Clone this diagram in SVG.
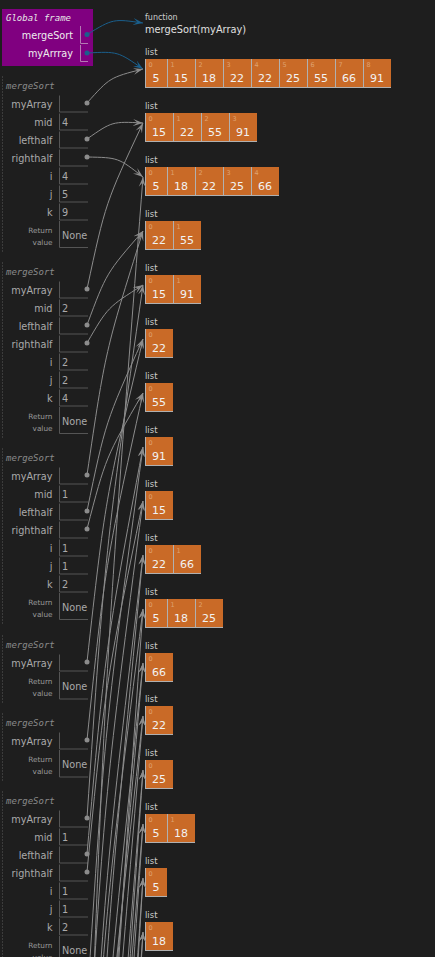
<svg xmlns="http://www.w3.org/2000/svg" width="435" height="957" viewBox="0 0 435 957">
<style>
.lbl{font-family:"DejaVu Sans",sans-serif;font-size:9.7px;fill:#aaaaaa;text-anchor:end}
.val{font-family:"DejaVu Sans",sans-serif;font-size:9.7px;fill:#aaaaaa}
.rv{font-family:"DejaVu Sans",sans-serif;font-size:7.3px;fill:#999999;text-anchor:end}
.hdr{font-family:"DejaVu Sans Mono",monospace;font-style:italic;font-size:9px;fill:#8a8a8a}
.cell{stroke:#555555;fill:none;stroke-width:1}
.brd{stroke:#5a5a5a;stroke-width:1;stroke-dasharray:1 2}
.dot{fill:#8c8c8c}
.gdot{fill:#1a5f8c}
.conn{stroke:#8c8c8c;fill:none;stroke-width:1;marker-end:url(#ag)}
.gconn{stroke:#1a5f8c;fill:none;stroke-width:1;marker-end:url(#ab)}
.lt{font-family:"DejaVu Sans",sans-serif;font-size:8.5px;fill:#cccccc}
.box{fill:#c96a27}
.sep{stroke:#b0b0b0;stroke-width:1}
.idx{font-family:"DejaVu Sans",sans-serif;font-size:6.5px;fill:#dfa271}
.num{font-family:"DejaVu Sans",sans-serif;font-size:11px;fill:#f2f2f2;text-anchor:middle}
.gl{font-family:"DejaVu Sans",sans-serif;font-size:9.7px;fill:#eeeeee;text-anchor:end}
</style>
<defs>
<marker id="ag" viewBox="-10 -4 10 8" refX="0" refY="0" markerWidth="10" markerHeight="8" markerUnits="userSpaceOnUse" orient="auto"><path d="M0,0 L-10,3.5 L-5.5,0 L-10,-3.5 Z" fill="#8c8c8c"/></marker>
<marker id="ab" viewBox="-10 -4 10 8" refX="0" refY="0" markerWidth="10" markerHeight="8" markerUnits="userSpaceOnUse" orient="auto"><path d="M0,0 L-10,3.5 L-5.5,0 L-10,-3.5 Z" fill="#1a5f8c"/></marker>
</defs>
<rect x="0" y="0" width="435" height="957" fill="#1e1e1e"/>

<g id="globalFrame">
<rect x="2" y="9" width="91" height="57" fill="#800080"/>
<text x="6" y="21" class="hdr" style="fill:#e6e6e6">Global frame</text>
<text x="73" y="38.5" class="gl">mergeSort</text>
<text x="73" y="57" class="gl">myArrray</text>
<path d="M80.5,26 V43.5 H88 M80.5,45 V61.5 H88" stroke="#b37ab3" fill="none"/>
<circle cx="87" cy="34.5" r="2.5" class="gdot"/>
<circle cx="87" cy="53" r="2.5" class="gdot"/>
</g>

<g id="frame1" transform="translate(0,103.5)">
<line x1="2.5" y1="-27" x2="2.5" y2="149" class="brd"/>
<text x="6" y="-14.5" class="hdr">mergeSort</text>
<text x="52.5" y="4" class="lbl">myArray</text>
<text x="52.5" y="22" class="lbl">mid</text>
<text x="52.5" y="40" class="lbl">lefthalf</text>
<text x="52.5" y="58" class="lbl">righthalf</text>
<text x="52.5" y="76" class="lbl">i</text>
<text x="52.5" y="94" class="lbl">j</text>
<text x="52.5" y="112" class="lbl">k</text>
<text x="52.5" y="129" class="rv">Return</text>
<text x="52.5" y="141" class="rv">value</text>
<path class="cell" d="M59.5,-8 V8.5 H88 M59.5,10 V26.5 H88 M59.5,28 V44.5 H88 M59.5,46 V62.5 H88 M59.5,64 V80.5 H88 M59.5,82 V98.5 H88 M59.5,100 V116.5 H88 M59.5,117.5 V144 H88"/>
<text x="62" y="22" class="val">4</text>
<text x="62" y="76" class="val">4</text>
<text x="62" y="94" class="val">5</text>
<text x="62" y="112" class="val">9</text>
<text x="62" y="135" class="val">None</text>
<circle cx="87" cy="-0.5" r="2.5" class="dot"/>
<circle cx="87" cy="35.5" r="2.5" class="dot"/>
<circle cx="87" cy="53.5" r="2.5" class="dot"/>
</g>

<g id="frame2" transform="translate(0,289.5)">
<line x1="2.5" y1="-27" x2="2.5" y2="149" class="brd"/>
<text x="6" y="-14.5" class="hdr">mergeSort</text>
<text x="52.5" y="4" class="lbl">myArray</text>
<text x="52.5" y="22" class="lbl">mid</text>
<text x="52.5" y="40" class="lbl">lefthalf</text>
<text x="52.5" y="58" class="lbl">righthalf</text>
<text x="52.5" y="76" class="lbl">i</text>
<text x="52.5" y="94" class="lbl">j</text>
<text x="52.5" y="112" class="lbl">k</text>
<text x="52.5" y="129" class="rv">Return</text>
<text x="52.5" y="141" class="rv">value</text>
<path class="cell" d="M59.5,-8 V8.5 H88 M59.5,10 V26.5 H88 M59.5,28 V44.5 H88 M59.5,46 V62.5 H88 M59.5,64 V80.5 H88 M59.5,82 V98.5 H88 M59.5,100 V116.5 H88 M59.5,117.5 V144 H88"/>
<text x="62" y="22" class="val">2</text>
<text x="62" y="76" class="val">2</text>
<text x="62" y="94" class="val">2</text>
<text x="62" y="112" class="val">4</text>
<text x="62" y="135" class="val">None</text>
<circle cx="87" cy="-0.5" r="2.5" class="dot"/>
<circle cx="87" cy="35.5" r="2.5" class="dot"/>
<circle cx="87" cy="53.5" r="2.5" class="dot"/>
</g>

<g id="frame3" transform="translate(0,475.5)">
<line x1="2.5" y1="-27" x2="2.5" y2="149" class="brd"/>
<text x="6" y="-14.5" class="hdr">mergeSort</text>
<text x="52.5" y="4" class="lbl">myArray</text>
<text x="52.5" y="22" class="lbl">mid</text>
<text x="52.5" y="40" class="lbl">lefthalf</text>
<text x="52.5" y="58" class="lbl">righthalf</text>
<text x="52.5" y="76" class="lbl">i</text>
<text x="52.5" y="94" class="lbl">j</text>
<text x="52.5" y="112" class="lbl">k</text>
<text x="52.5" y="129" class="rv">Return</text>
<text x="52.5" y="141" class="rv">value</text>
<path class="cell" d="M59.5,-8 V8.5 H88 M59.5,10 V26.5 H88 M59.5,28 V44.5 H88 M59.5,46 V62.5 H88 M59.5,64 V80.5 H88 M59.5,82 V98.5 H88 M59.5,100 V116.5 H88 M59.5,117.5 V144 H88"/>
<text x="62" y="22" class="val">1</text>
<text x="62" y="76" class="val">1</text>
<text x="62" y="94" class="val">1</text>
<text x="62" y="112" class="val">2</text>
<text x="62" y="135" class="val">None</text>
<circle cx="87" cy="-0.5" r="2.5" class="dot"/>
<circle cx="87" cy="35.5" r="2.5" class="dot"/>
<circle cx="87" cy="53.5" r="2.5" class="dot"/>
</g>

<g id="frame4" transform="translate(0,662.5)">
<line x1="2.5" y1="-27" x2="2.5" y2="41" class="brd"/>
<text x="6" y="-14.5" class="hdr">mergeSort</text>
<text x="52.5" y="4" class="lbl">myArray</text>
<text x="52.5" y="21.5" class="rv">Return</text>
<text x="52.5" y="33.5" class="rv">value</text>
<path class="cell" d="M59.5,-8 V8.5 H88 M59.5,9.5 V36.5 H88"/>
<text x="62" y="27.5" class="val">None</text>
<circle cx="87" cy="-0.5" r="2.5" class="dot"/>
</g>

<g id="frame5" transform="translate(0,740.5)">
<line x1="2.5" y1="-27" x2="2.5" y2="41" class="brd"/>
<text x="6" y="-14.5" class="hdr">mergeSort</text>
<text x="52.5" y="4" class="lbl">myArray</text>
<text x="52.5" y="21.5" class="rv">Return</text>
<text x="52.5" y="33.5" class="rv">value</text>
<path class="cell" d="M59.5,-8 V8.5 H88 M59.5,9.5 V36.5 H88"/>
<text x="62" y="27.5" class="val">None</text>
<circle cx="87" cy="-0.5" r="2.5" class="dot"/>
</g>

<g id="frame6" transform="translate(0,818.5)">
<line x1="2.5" y1="-27" x2="2.5" y2="149" class="brd"/>
<text x="6" y="-14.5" class="hdr">mergeSort</text>
<text x="52.5" y="4" class="lbl">myArray</text>
<text x="52.5" y="22" class="lbl">mid</text>
<text x="52.5" y="40" class="lbl">lefthalf</text>
<text x="52.5" y="58" class="lbl">righthalf</text>
<text x="52.5" y="76" class="lbl">i</text>
<text x="52.5" y="94" class="lbl">j</text>
<text x="52.5" y="112" class="lbl">k</text>
<text x="52.5" y="129" class="rv">Return</text>
<text x="52.5" y="141" class="rv">value</text>
<path class="cell" d="M59.5,-8 V8.5 H88 M59.5,10 V26.5 H88 M59.5,28 V44.5 H88 M59.5,46 V62.5 H88 M59.5,64 V80.5 H88 M59.5,82 V98.5 H88 M59.5,100 V116.5 H88 M59.5,117.5 V144 H88"/>
<text x="62" y="22" class="val">1</text>
<text x="62" y="76" class="val">1</text>
<text x="62" y="94" class="val">1</text>
<text x="62" y="112" class="val">2</text>
<text x="62" y="135" class="val">None</text>
<circle cx="87" cy="-0.5" r="2.5" class="dot"/>
<circle cx="87" cy="35.5" r="2.5" class="dot"/>
<circle cx="87" cy="53.5" r="2.5" class="dot"/>
</g>

<g id="func">
<text x="145" y="20" style="font-family:'DejaVu Sans',sans-serif;font-size:8px;fill:#cccccc">function</text>
<text x="145" y="33" style="font-family:'DejaVu Sans',sans-serif;font-size:9.8px;fill:#e0e0e0">mergeSort(myArray)</text>
</g>

<g id="list1" transform="translate(145,59)">
<text class="lt" x="0" y="-4">list</text>
<rect class="box" x="0" y="0" width="246" height="28"/>
<path class="sep" d="M0.5,0 V28 M22.5,0 V28 M50.5,0 V28 M78.5,0 V28 M106.5,0 V28 M134.5,0 V28 M162.5,0 V28 M190.5,0 V28 M218.5,0 V28 M0,28.5 H246"/>
<text class="idx" x="3.5" y="7.5">0</text><text class="idx" x="25.5" y="7.5">1</text><text class="idx" x="53.5" y="7.5">2</text><text class="idx" x="81.5" y="7.5">3</text><text class="idx" x="109.5" y="7.5">4</text><text class="idx" x="137.5" y="7.5">5</text><text class="idx" x="165.5" y="7.5">6</text><text class="idx" x="193.5" y="7.5">7</text><text class="idx" x="221.5" y="7.5">8</text>
<text class="num" x="11" y="22.5">5</text><text class="num" x="36" y="22.5">15</text><text class="num" x="64" y="22.5">18</text><text class="num" x="92" y="22.5">22</text><text class="num" x="120" y="22.5">22</text><text class="num" x="148" y="22.5">25</text><text class="num" x="176" y="22.5">55</text><text class="num" x="204" y="22.5">66</text><text class="num" x="232" y="22.5">91</text>
</g>

<g id="list2" transform="translate(145,113)">
<text class="lt" x="0" y="-4">list</text>
<rect class="box" x="0" y="0" width="112" height="28"/>
<path class="sep" d="M0.5,0 V28 M28.5,0 V28 M56.5,0 V28 M84.5,0 V28 M0,28.5 H112"/>
<text class="idx" x="3.5" y="7.5">0</text><text class="idx" x="31.5" y="7.5">1</text><text class="idx" x="59.5" y="7.5">2</text><text class="idx" x="87.5" y="7.5">3</text>
<text class="num" x="14" y="22.5">15</text><text class="num" x="42" y="22.5">22</text><text class="num" x="70" y="22.5">55</text><text class="num" x="98" y="22.5">91</text>
</g>

<g id="list3" transform="translate(145,167)">
<text class="lt" x="0" y="-4">list</text>
<rect class="box" x="0" y="0" width="134" height="28"/>
<path class="sep" d="M0.5,0 V28 M22.5,0 V28 M50.5,0 V28 M78.5,0 V28 M106.5,0 V28 M0,28.5 H134"/>
<text class="idx" x="3.5" y="7.5">0</text><text class="idx" x="25.5" y="7.5">1</text><text class="idx" x="53.5" y="7.5">2</text><text class="idx" x="81.5" y="7.5">3</text><text class="idx" x="109.5" y="7.5">4</text>
<text class="num" x="11" y="22.5">5</text><text class="num" x="36" y="22.5">18</text><text class="num" x="64" y="22.5">22</text><text class="num" x="92" y="22.5">25</text><text class="num" x="120" y="22.5">66</text>
</g>

<g id="list4" transform="translate(145,221)">
<text class="lt" x="0" y="-4">list</text>
<rect class="box" x="0" y="0" width="56" height="28"/>
<path class="sep" d="M0.5,0 V28 M28.5,0 V28 M0,28.5 H56"/>
<text class="idx" x="3.5" y="7.5">0</text><text class="idx" x="31.5" y="7.5">1</text>
<text class="num" x="14" y="22.5">22</text><text class="num" x="42" y="22.5">55</text>
</g>

<g id="list5" transform="translate(145,275)">
<text class="lt" x="0" y="-4">list</text>
<rect class="box" x="0" y="0" width="56" height="28"/>
<path class="sep" d="M0.5,0 V28 M28.5,0 V28 M0,28.5 H56"/>
<text class="idx" x="3.5" y="7.5">0</text><text class="idx" x="31.5" y="7.5">1</text>
<text class="num" x="14" y="22.5">15</text><text class="num" x="42" y="22.5">91</text>
</g>

<g id="list6" transform="translate(145,329)">
<text class="lt" x="0" y="-4">list</text>
<rect class="box" x="0" y="0" width="28" height="28"/>
<path class="sep" d="M0.5,0 V28 M0,28.5 H28"/>
<text class="idx" x="3.5" y="7.5">0</text><text class="num" x="14" y="22.5">22</text>
</g>

<g id="list7" transform="translate(145,383)">
<text class="lt" x="0" y="-4">list</text>
<rect class="box" x="0" y="0" width="28" height="28"/>
<path class="sep" d="M0.5,0 V28 M0,28.5 H28"/>
<text class="idx" x="3.5" y="7.5">0</text><text class="num" x="14" y="22.5">55</text>
</g>

<g id="list8" transform="translate(145,437)">
<text class="lt" x="0" y="-4">list</text>
<rect class="box" x="0" y="0" width="28" height="28"/>
<path class="sep" d="M0.5,0 V28 M0,28.5 H28"/>
<text class="idx" x="3.5" y="7.5">0</text><text class="num" x="14" y="22.5">91</text>
</g>

<g id="list9" transform="translate(145,491)">
<text class="lt" x="0" y="-4">list</text>
<rect class="box" x="0" y="0" width="28" height="28"/>
<path class="sep" d="M0.5,0 V28 M0,28.5 H28"/>
<text class="idx" x="3.5" y="7.5">0</text><text class="num" x="14" y="22.5">15</text>
</g>

<g id="list10" transform="translate(145,545)">
<text class="lt" x="0" y="-4">list</text>
<rect class="box" x="0" y="0" width="56" height="28"/>
<path class="sep" d="M0.5,0 V28 M28.5,0 V28 M0,28.5 H56"/>
<text class="idx" x="3.5" y="7.5">0</text><text class="idx" x="31.5" y="7.5">1</text>
<text class="num" x="14" y="22.5">22</text><text class="num" x="42" y="22.5">66</text>
</g>

<g id="list11" transform="translate(145,599)">
<text class="lt" x="0" y="-4">list</text>
<rect class="box" x="0" y="0" width="78" height="28"/>
<path class="sep" d="M0.5,0 V28 M22.5,0 V28 M50.5,0 V28 M0,28.5 H78"/>
<text class="idx" x="3.5" y="7.5">0</text><text class="idx" x="25.5" y="7.5">1</text><text class="idx" x="53.5" y="7.5">2</text>
<text class="num" x="11" y="22.5">5</text><text class="num" x="36" y="22.5">18</text><text class="num" x="64" y="22.5">25</text>
</g>

<g id="list12" transform="translate(145,653)">
<text class="lt" x="0" y="-4">list</text>
<rect class="box" x="0" y="0" width="28" height="28"/>
<path class="sep" d="M0.5,0 V28 M0,28.5 H28"/>
<text class="idx" x="3.5" y="7.5">0</text><text class="num" x="14" y="22.5">66</text>
</g>

<g id="list13" transform="translate(145,706)">
<text class="lt" x="0" y="-4">list</text>
<rect class="box" x="0" y="0" width="28" height="28"/>
<path class="sep" d="M0.5,0 V28 M0,28.5 H28"/>
<text class="idx" x="3.5" y="7.5">0</text><text class="num" x="14" y="22.5">22</text>
</g>

<g id="list14" transform="translate(145,760)">
<text class="lt" x="0" y="-4">list</text>
<rect class="box" x="0" y="0" width="28" height="28"/>
<path class="sep" d="M0.5,0 V28 M0,28.5 H28"/>
<text class="idx" x="3.5" y="7.5">0</text><text class="num" x="14" y="22.5">25</text>
</g>

<g id="list15" transform="translate(145,814)">
<text class="lt" x="0" y="-4">list</text>
<rect class="box" x="0" y="0" width="50" height="28"/>
<path class="sep" d="M0.5,0 V28 M22.5,0 V28 M0,28.5 H50"/>
<text class="idx" x="3.5" y="7.5">0</text><text class="idx" x="25.5" y="7.5">1</text>
<text class="num" x="11" y="22.5">5</text><text class="num" x="36" y="22.5">18</text>
</g>

<g id="list16" transform="translate(145,868)">
<text class="lt" x="0" y="-4">list</text>
<rect class="box" x="0" y="0" width="22" height="28"/>
<path class="sep" d="M0.5,0 V28 M0,28.5 H22"/>
<text class="idx" x="3.5" y="7.5">0</text><text class="num" x="11" y="22.5">5</text>
</g>

<g id="list17" transform="translate(145,922)">
<text class="lt" x="0" y="-4">list</text>
<rect class="box" x="0" y="0" width="28" height="28"/>
<path class="sep" d="M0.5,0 V28 M0,28.5 H28"/>
<text class="idx" x="3.5" y="7.5">0</text><text class="num" x="14" y="22.5">18</text>
</g>

<g id="connectors">
<path class="gconn" d="M87,34.5 C113.1,18.7 113.1,18.7 143,23"/>
<path class="gconn" d="M87,53 C117.8,51.4 117.8,51.4 143,69"/>
<path class="conn" d="M87,103 C109.8,77.5 109.8,77.5 143,69"/>
<path class="conn" d="M87,139 C112.2,121.4 112.2,121.4 143,123"/>
<path class="conn" d="M87,157 C118.3,157.6 118.3,157.6 143,177"/>
<path class="conn" d="M87,289 C105.5,202.8 105.5,202.8 143,123"/>
<path class="conn" d="M87,325 C106.4,272.9 106.4,272.9 143,231"/>
<path class="conn" d="M87,343 C107.8,307.1 107.8,307.1 143,285"/>
<path class="conn" d="M87,475 C105.3,350.8 105.3,350.8 143,231"/>
<path class="conn" d="M87,511 C105.5,421.9 105.5,421.9 143,339"/>
<path class="conn" d="M87,529 C105.7,457.2 105.7,457.2 143,393"/>
<path class="conn" d="M87,662 C105.2,498.8 105.2,498.8 143,339"/>
<path class="conn" d="M87,740 C105.1,564.9 105.1,564.9 143,393"/>
<path class="conn" d="M87,818 C105.1,550.5 105.1,550.5 143,285"/>
<path class="conn" d="M87,854 C105.1,649.1 105.1,649.1 143,447"/>
<path class="conn" d="M87,872 C105.1,685 105.1,685 143,501"/>
<path class="conn" d="M87,1005 C105,725 105,725 143,447"/>
<path class="conn" d="M87,1083 C105,791 105,791 143,501"/>
<path class="conn" d="M87,1161 C105,668.5 105,668.5 143,177"/>
<path class="conn" d="M87,1197 C105,875 105,875 143,555"/>
<path class="conn" d="M87,1215 C105,911 105,911 143,609"/>
<path class="conn" d="M87,1348 C105,950.8 105,950.8 143,555"/>
<path class="conn" d="M87,1384 C105,1022.7 105,1022.7 143,663"/>
<path class="conn" d="M87,1402 C105,1058.7 105,1058.7 143,716"/>
<path class="conn" d="M87,1534 C105,1098 105,1098 143,663"/>
<path class="conn" d="M87,1612 C105,1164 105,1164 143,716"/>
<path class="conn" d="M87,1690 C105,1149 105,1149 143,609"/>
<path class="conn" d="M87,1726 C105,1248 105,1248 143,770"/>
<path class="conn" d="M87,1744 C105,1284 105,1284 143,824"/>
<path class="conn" d="M87,1877 C105,1323 105,1323 143,770"/>
<path class="conn" d="M87,1955 C105,1389 105,1389 143,824"/>
<path class="conn" d="M87,1991 C105,1434 105,1434 143,878"/>
<path class="conn" d="M87,2009 C105,1470 105,1470 143,932"/>
<path class="conn" d="M87,2141 C105,1509.5 105,1509.5 143,878"/>
<path class="conn" d="M87,2219 C105,1575.5 105,1575.5 143,932"/>
</g>
</svg>
